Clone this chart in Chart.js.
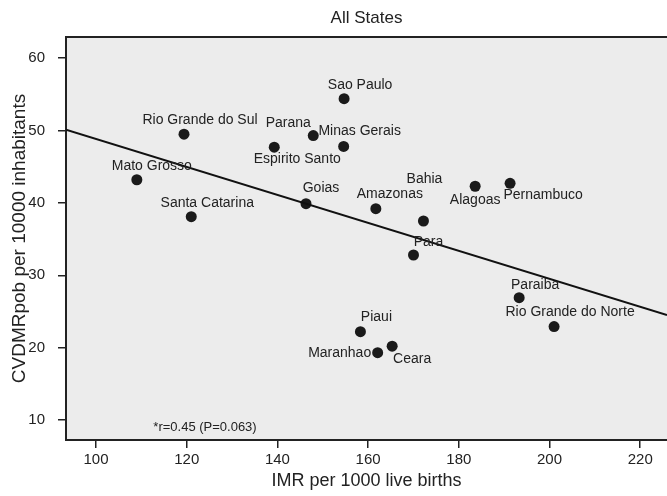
<!DOCTYPE html>
<html>
<head>
<meta charset="utf-8">
<title>All States</title>
<script src="https://cdn.jsdelivr.net/npm/chart.js@4.4.1/dist/chart.umd.min.js"></script>
<style>
  body { margin: 0; background: #fff; }
</style>
</head>
<body>
<canvas id="grafica" width="667" height="496"></canvas>
<script>
// datos
const estados = [
  "Rio Grande do Sul", "Parana", "Minas Gerais", "Espirito Santo", "Sao Paulo",
  "Mato Grosso", "Santa Catarina", "Goias", "Amazonas", "Bahia", "Alagoas",
  "Pernambuco", "Para", "Paraiba", "Rio Grande do Norte", "Piaui", "Maranhao", "Ceara"
];
const imr = [119.4, 147.9, 154.6, 139.3, 154.7, 109.0, 121.0, 146.3, 161.7, 172.2, 183.6,
  191.3, 170.0, 193.3, 201.0, 158.3, 162.1, 165.3];
const cvdmr = [49.5, 49.3, 47.8, 47.7, 54.4, 43.2, 38.1, 39.9, 39.2, 37.5, 42.3,
  42.7, 32.8, 26.9, 22.9, 22.2, 19.3, 20.2];

// recta de regresion (extremos)
const rectaX = [93.38, 225.9];
const rectaY = [50.1, 24.5];

const ticksX = [100, 120, 140, 160, 180, 200, 220];
const ticksY = [10, 20, 30, 40, 50, 60];
const anotacion = "*r=0.45 (P=0.063)";

// posicion de cada etiqueta respecto a su punto (px)
const offsetEtiquetas = {
  "Rio Grande do Sul": [16, -14], "Parana": [-25, -12], "Minas Gerais": [16, -15],
  "Espirito Santo": [23, 12], "Sao Paulo": [16, -14], "Mato Grosso": [15, -14],
  "Santa Catarina": [16, -14], "Goias": [15, -15], "Amazonas": [14, -15],
  "Bahia": [1, -42], "Alagoas": [0, 14], "Pernambuco": [33, 12], "Para": [15, -13],
  "Paraiba": [16, -13], "Rio Grande do Norte": [16, -14], "Piaui": [16, -15],
  "Maranhao": [-38, 0], "Ceara": [20, 13]
};

const puntos = imr.map((x, i) => ({ x: x, y: cvdmr[i] }));
const recta = rectaX.map((x, i) => ({ x: x, y: rectaY[i] }));

Chart.defaults.font.family = "'Liberation Sans', Arial, sans-serif";
Chart.defaults.color = "#222";

// fondo gris y marco del area
const fondo = {
  id: "fondo",
  beforeDraw(chart) {
    const { ctx, chartArea: a } = chart;
    ctx.save();
    ctx.fillStyle = "#ececec";
    ctx.fillRect(a.left, a.top, a.right - a.left, a.bottom - a.top);
    ctx.strokeStyle = "#222";
    ctx.lineWidth = 2;
    ctx.beginPath();
    ctx.moveTo(a.left, a.top);
    ctx.lineTo(a.right, a.top);
    ctx.stroke();
    ctx.restore();
  }
};

// nombres de los estados y anotacion
const etiquetas = {
  id: "etiquetas",
  afterDatasetsDraw(chart) {
    const ctx = chart.ctx;
    const meta = chart.getDatasetMeta(1);
    ctx.save();
    ctx.font = "14px 'Liberation Sans', Arial, sans-serif";
    ctx.fillStyle = "#222";
    ctx.textAlign = "center";
    ctx.textBaseline = "middle";
    meta.data.forEach((p, i) => {
      const off = offsetEtiquetas[estados[i]];
      ctx.fillText(estados[i], p.x + off[0], p.y + off[1]);
    });
    ctx.font = "13px 'Liberation Sans', Arial, sans-serif";
    ctx.fillText(anotacion, 205, 427);
    ctx.restore();
  }
};

const ctx = document.getElementById("grafica");
new Chart(ctx, {
  type: "scatter",
  data: {
    datasets: [
      {
        type: "line",
        data: recta,
        borderColor: "#111",
        borderWidth: 2,
        pointRadius: 0,
        fill: false
      },
      {
        data: puntos,
        pointRadius: 5.5,
        pointHoverRadius: 5.5,
        backgroundColor: "#1a1a1a",
        borderWidth: 0
      }
    ]
  },
  options: {
    responsive: false,
    animation: false,
    events: [],
    layout: { padding: 0, autoPadding: false },
    plugins: {
      legend: { display: false },
      tooltip: { enabled: false },
      title: {
        display: true,
        text: "All States",
        fullSize: false,
        font: { size: 17, weight: "normal" },
        color: "#222",
        padding: { top: 8, bottom: 8.6 }
      }
    },
    scales: {
      x: {
        type: "linear",
        min: 93.38,
        max: 225.9,
        afterFit: (s) => { s.height = 56; s.paddingLeft = 0; s.paddingRight = 0; },
        afterBuildTicks: (s) => { s.ticks = ticksX.map((v) => ({ value: v })); },
        grid: { drawOnChartArea: false, drawTicks: true, tickLength: 8, color: "#222", lineWidth: 1.5 },
        border: { color: "#222", width: 2 },
        ticks: { font: { size: 15 }, color: "#222", padding: 3, maxRotation: 0 },
        title: {
          display: true,
          text: "IMR per 1000 live births",
          font: { size: 18 },
          color: "#222",
          padding: { top: 0, bottom: 4 }
        }
      },
      y: {
        min: 7.23,
        max: 62.93,
        afterFit: (s) => { s.width = 66; },
        afterBuildTicks: (s) => { s.ticks = ticksY.map((v) => ({ value: v })); },
        grid: { drawOnChartArea: false, drawTicks: true, tickLength: 8, color: "#222", lineWidth: 1.5 },
        border: { color: "#222", width: 2 },
        ticks: { font: { size: 15 }, color: "#222", padding: 13 },
        title: {
          display: true,
          text: "CVDMRpob per 10000 inhabitants",
          font: { size: 19 },
          color: "#222",
          padding: { top: 8, bottom: 0 }
        }
      }
    }
  },
  plugins: [fondo, etiquetas]
});
</script>
</body>
</html>
